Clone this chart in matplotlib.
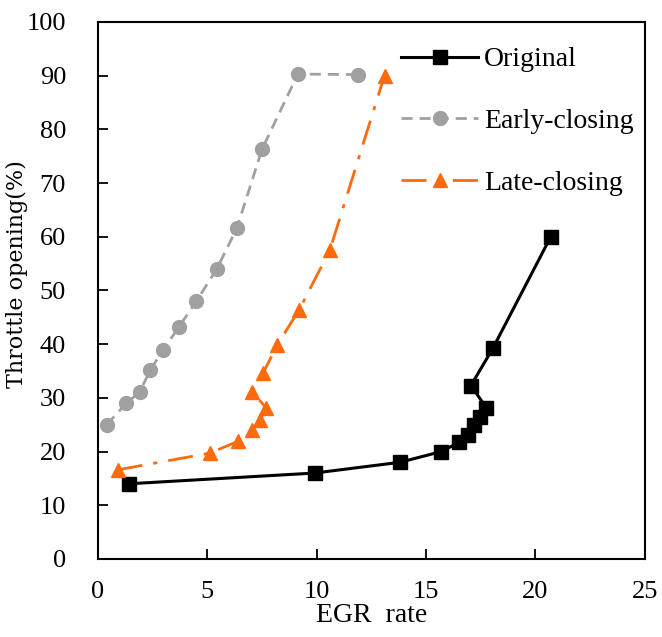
import matplotlib.pyplot as plt

plt.rcParams['font.family'] = ['Liberation Serif', 'DejaVu Serif']

# EGR rate (%) vs throttle opening (%)
orig_x = [1.4, 9.9, 13.8, 15.7, 16.5, 16.9, 17.2, 17.45, 17.75, 17.05, 18.05, 20.7]
orig_y = [14, 16, 18, 20, 21.7, 23, 25, 26.5, 28.2, 32.3, 39.2, 60]

early_x = [0.4, 1.3, 1.9, 2.4, 2.97, 3.7, 4.5, 5.43, 6.35, 7.5, 9.14, 11.9]
early_y = [25, 29, 31.1, 35.2, 38.9, 43.2, 48, 54, 61.6, 76.3, 90.3, 90.2]

late_x = [0.9, 5.1, 6.4, 7.05, 7.4, 7.7, 7.05, 7.55, 8.2, 9.2, 10.6, 13.1]
late_y = [16.6, 19.7, 21.9, 24, 25.9, 28.1, 31.1, 34.6, 39.9, 46.4, 57.5, 90]

xticks = [0, 5, 10, 15, 20, 25]
yticks = [0, 10, 20, 30, 40, 50, 60, 70, 80, 90, 100]

fig = plt.figure(figsize=(6.62, 6.37), dpi=100)
ax = fig.add_axes([0.148, 0.1225, 0.826, 0.843])

ax.plot(orig_x, orig_y, color='black', lw=2.2, marker='s', ms=10,
        label='Original')
ax.plot(early_x, early_y, color='#A0A0A0', lw=2.0, ls=(0, (4, 2.5)),
        marker='o', ms=10, label='Early-closing')
ax.plot(late_x, late_y, color='#FF6A0D', lw=2.0, ls=(0, (9, 4, 1.5, 4)),
        marker='^', ms=10, label='Late-closing')

ax.set_xlim(0, 25)
ax.set_ylim(0, 100)
ax.set_xticks(xticks)
ax.set_yticks(yticks)
ax.tick_params(direction='in', length=7, width=1.3, labelsize=19)
ax.tick_params(axis='y', pad=23)
ax.tick_params(axis='x', pad=16)
for s in ax.spines.values():
    s.set_linewidth(1.5)

ax.set_xlabel('EGR  rate', fontsize=20, labelpad=0)
ax.set_ylabel('Throttle opening(%)', fontsize=16, family='DejaVu Serif')
ax.yaxis.set_label_coords(-0.128, 0.53)

ax.legend(loc='upper right', frameon=False, fontsize=20, handlelength=2.8,
          labelspacing=1.3, handletextpad=0.2, borderaxespad=0.0,
          bbox_to_anchor=(1.0, 0.974))

fig.savefig('out.png', dpi=100)
